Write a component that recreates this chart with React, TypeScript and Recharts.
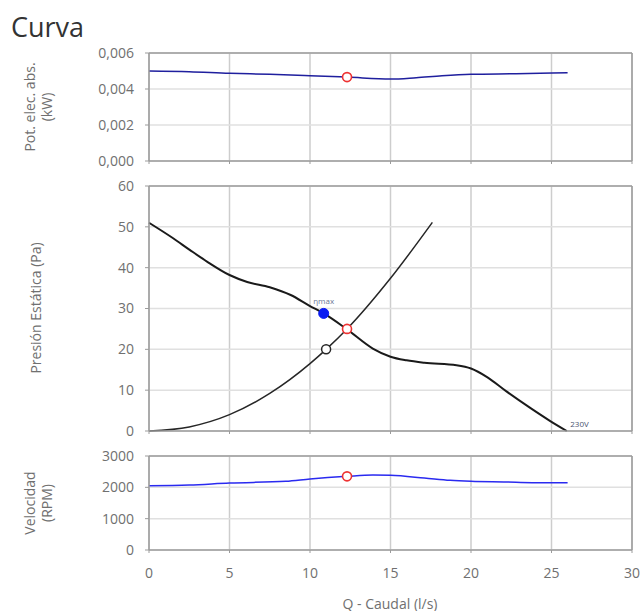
import React from 'react';
import { LineChart, Line, XAxis, YAxis, CartesianGrid, ReferenceDot } from 'recharts';

// x axis (Q - Caudal, l/s)
const xMajor = [0, 5, 10, 15, 20, 25, 30];
const xMinor = [0, 1, 2, 3, 4, 5, 6, 7, 8, 9, 10, 11, 12, 13, 14, 15, 16, 17, 18, 19, 20, 21, 22, 23, 24, 25, 26, 27, 28, 29, 30];

// power panel
const powerMajor = [0, 0.002, 0.004, 0.006];
const powerMinor = [0, 0.0005, 0.001, 0.0015, 0.002, 0.0025, 0.003, 0.0035, 0.004, 0.0045, 0.005, 0.0055, 0.006];
const powerQ = [0, 2.5, 5, 7.5, 10, 12.3, 15, 16.6, 18.2, 20, 22.8, 26];
const powerKw = [0.005, 0.00496, 0.00487, 0.00482, 0.00474, 0.00466, 0.00455, 0.00463, 0.00474, 0.00482, 0.00485, 0.0049];

// pressure panel
const pressMajor = [0, 10, 20, 30, 40, 50, 60];
const pressMinor = [0, 2, 4, 6, 8, 10, 12, 14, 16, 18, 20, 22, 24, 26, 28, 30, 32, 34, 36, 38, 40, 42, 44, 46, 48, 50, 52, 54, 56, 58, 60];
const fanQ = [0, 1.5, 2.55, 3.6, 5, 6.1, 7.5, 8.8, 10, 10.85, 12.3, 13.9, 15, 16, 17.1, 19.1, 20, 21, 22.2, 23.7, 24.9, 25.95];
const fanPa = [51, 47.2, 44.3, 41.5, 38.2, 36.5, 35.2, 33.3, 30.6, 28.8, 24.9, 20.2, 18.2, 17.3, 16.7, 16.1, 15.3, 13.2, 9.7, 5.6, 2.5, 0];
const sysQ = [0, 2.5, 5, 7.5, 10, 11, 12.3, 15, 17.6];
const sysPa = [0, 1, 4, 9.2, 16.5, 20, 25, 37.4, 51.1];

// speed panel
const rpmMajor = [0, 1000, 2000, 3000];
const rpmMinor = [0, 200, 400, 600, 800, 1000, 1200, 1400, 1600, 1800, 2000, 2200, 2400, 2600, 2800, 3000];
const rpmQ = [0, 2.5, 5, 8.5, 10, 12.3, 13.9, 15, 17.1, 18.7, 20, 22.2, 23.8, 26];
const rpmVal = [2053, 2074, 2138, 2191, 2265, 2350, 2392, 2382, 2297, 2223, 2191, 2170, 2149, 2149];

// points marked on the curves
const workQ = 12.3;
const workPower = 0.00466;
const workPa = 25;
const workRpm = 2350;
const etaQ = 10.85;
const etaPa = 28.8;
const sysPointQ = 11;
const sysPointPa = 20;
const endQ = 25.95;
const endPa = 0;

const pts = (qs: number[], vs: number[]) => qs.map((q, i) => ({ q, v: vs[i] }));

const FRAME = '#9b9b9b';
const TICK_TEXT = '#707070';
const FONT = "'Open Sans', sans-serif";

// tick renderer that draws no label (keeps the tick lines and grid)
const noLabel = () => <g />;

interface PanelProps {
  top: number;
  height: number;
  marginTop: number;
  marginBottom: number;
  yDomain: [number, number];
  yMajor: number[];
  yMinor: number[];
  yFormat?: (v: number) => string;
  showX?: boolean;
  children?: React.ReactNode;
}

function Panel({ top, height, marginTop, marginBottom, yDomain, yMajor, yMinor, yFormat, showX, children }: PanelProps) {
  return (
    <div style={{ position: 'absolute', left: 0, top, width: 641, height }}>
      <LineChart width={641} height={height} margin={{ top: marginTop, right: 9, bottom: marginBottom, left: 148 }}>
        <CartesianGrid xAxisId="x" yAxisId="y" horizontal={false} stroke="#cdcdcd" strokeWidth={1.5} />
        <CartesianGrid xAxisId="x" yAxisId="y" vertical={false} stroke="#e0e0e0" strokeWidth={1.5} />
        <XAxis
          xAxisId="x"
          type="number"
          dataKey="q"
          domain={[0, 30]}
          ticks={xMajor}
          interval={0}
          height={1}
          axisLine={{ stroke: FRAME, strokeWidth: 1.5 }}
          tickLine={{ stroke: FRAME }}
          tickSize={3}
          tickMargin={15}
          tick={showX ? { fill: TICK_TEXT, fontSize: 14, fontFamily: FONT } : noLabel}
        />
        <XAxis
          xAxisId="xm"
          type="number"
          dataKey="q"
          domain={[0, 30]}
          ticks={xMinor}
          interval={0}
          mirror
          height={10}
          axisLine={false}
          tickLine={{ stroke: FRAME }}
          tickSize={3}
          tick={noLabel}
        />
        <XAxis
          xAxisId="xt"
          orientation="top"
          type="number"
          dataKey="q"
          domain={[0, 30]}
          ticks={xMinor}
          interval={0}
          mirror
          height={10}
          axisLine={{ stroke: FRAME, strokeWidth: 1.5 }}
          tickLine={{ stroke: FRAME }}
          tickSize={3}
          tick={noLabel}
        />
        <YAxis
          yAxisId="y"
          type="number"
          domain={yDomain}
          ticks={yMajor}
          interval={0}
          width={1}
          axisLine={{ stroke: FRAME, strokeWidth: 1.5 }}
          tickLine={{ stroke: FRAME }}
          tickSize={4}
          tickMargin={11}
          tickFormatter={yFormat}
          tick={{ fill: TICK_TEXT, fontSize: 14, fontFamily: FONT }}
        />
        <YAxis
          yAxisId="ym"
          type="number"
          domain={yDomain}
          ticks={yMinor}
          interval={0}
          mirror
          width={10}
          axisLine={false}
          tickLine={{ stroke: FRAME }}
          tickSize={3}
          tick={noLabel}
        />
        <YAxis
          yAxisId="yr"
          orientation="right"
          type="number"
          domain={yDomain}
          ticks={yMinor}
          interval={0}
          mirror
          width={10}
          axisLine={{ stroke: FRAME, strokeWidth: 1.5 }}
          tickLine={{ stroke: FRAME }}
          tickSize={3}
          tick={noLabel}
        />
        {children}
      </LineChart>
    </div>
  );
}

const openRed = { r: 4.5, fill: '#ffffff', stroke: '#ee3333', strokeWidth: 1.6 };

export default function App() {
  return (
    <div style={{ position: 'absolute', left: 0, top: 0, width: 641, height: 611, background: '#fff', fontFamily: FONT }}>
      <Panel
        top={0}
        height={170}
        marginTop={53}
        marginBottom={8}
        yDomain={[0, 0.006]}
        yMajor={powerMajor}
        yMinor={powerMinor}
        yFormat={(v: number) => v.toFixed(3).replace('.', ',')}
      >
        <Line
          xAxisId="x"
          yAxisId="y"
          data={pts(powerQ, powerKw)}
          dataKey="v"
          type="monotone"
          stroke="#1f1f9e"
          strokeWidth={1.5}
          dot={false}
          isAnimationActive={false}
        />
        <ReferenceDot xAxisId="x" yAxisId="y" x={workQ} y={workPower} {...openRed} />
      </Panel>

      <Panel
        top={170}
        height={270}
        marginTop={16}
        marginBottom={8}
        yDomain={[0, 60]}
        yMajor={pressMajor}
        yMinor={pressMinor}
      >
        <Line
          xAxisId="x"
          yAxisId="y"
          data={pts(sysQ, sysPa)}
          dataKey="v"
          type="monotone"
          stroke="#262626"
          strokeWidth={1.5}
          dot={false}
          isAnimationActive={false}
        />
        <Line
          xAxisId="x"
          yAxisId="y"
          data={pts(fanQ, fanPa)}
          dataKey="v"
          type="monotone"
          stroke="#1a1a1a"
          strokeWidth={2}
          dot={false}
          isAnimationActive={false}
        />
        <ReferenceDot
          xAxisId="x"
          yAxisId="y"
          x={etaQ}
          y={etaPa}
          r={5}
          fill="#0a1cf2"
          stroke="#0a1cf2"
          label={{ value: 'ηmax', position: 'top', offset: 4, fontSize: 8, fill: '#6a7896', fontFamily: FONT }}
        />
        <ReferenceDot xAxisId="x" yAxisId="y" x={sysPointQ} y={sysPointPa} r={4.5} fill="#ffffff" stroke="#262626" strokeWidth={1.5} />
        <ReferenceDot xAxisId="x" yAxisId="y" x={workQ} y={workPa} {...openRed} />
        <ReferenceDot
          xAxisId="x"
          yAxisId="y"
          x={endQ}
          y={endPa}
          r={0.5}
          fill="none"
          stroke="none"
          label={{ value: '230V', position: 'right', offset: 3, dy: -7, fontSize: 8, fill: '#4a5570', fontFamily: FONT }}
        />
      </Panel>

      <Panel
        top={440}
        height={171}
        marginTop={16}
        marginBottom={60}
        yDomain={[0, 3000]}
        yMajor={rpmMajor}
        yMinor={rpmMinor}
        showX
      >
        <Line
          xAxisId="x"
          yAxisId="y"
          data={pts(rpmQ, rpmVal)}
          dataKey="v"
          type="monotone"
          stroke="#2a2af0"
          strokeWidth={1.5}
          dot={false}
          isAnimationActive={false}
        />
        <ReferenceDot xAxisId="x" yAxisId="y" x={workQ} y={workRpm} {...openRed} />
      </Panel>

      <svg width={641} height={611} style={{ position: 'absolute', left: 0, top: 0, pointerEvents: 'none' }}>
        <text x={11} y={37} fontSize={27} fill="#333" fontFamily={FONT}>Curva</text>
        <g fontSize={14} fill={TICK_TEXT} fontFamily={FONT} textAnchor="middle" dominantBaseline="central">
          <text transform="translate(29,107) rotate(-90)">Pot. elec. abs.</text>
          <text transform="translate(46,107) rotate(-90)">(kW)</text>
          <text transform="translate(35,308) rotate(-90)">Presión Estática (Pa)</text>
          <text transform="translate(29,503) rotate(-90)">Velocidad</text>
          <text transform="translate(46,503) rotate(-90)">(RPM)</text>
          <text x={390} y={603}>Q - Caudal (l/s)</text>
        </g>
      </svg>
    </div>
  );
}
